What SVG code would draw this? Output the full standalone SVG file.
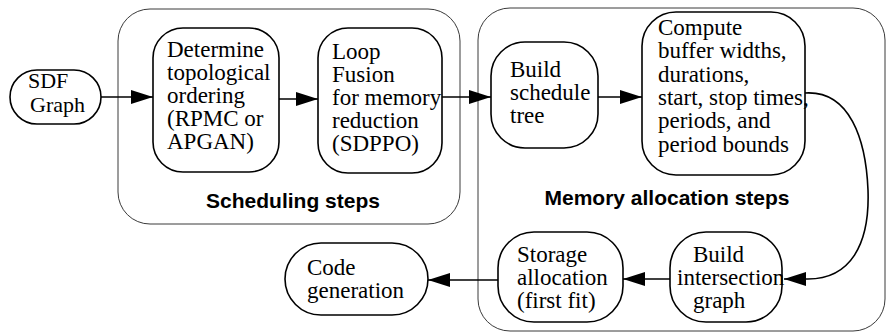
<svg xmlns="http://www.w3.org/2000/svg" width="888" height="333" viewBox="0 0 888 333">
  <style>
    .bg { fill: #ffffff; }
    .group { fill: none; stroke: #3a3a3a; stroke-width: 1; }
    .node { fill: #ffffff; stroke: #000000; stroke-width: 1.6; }
    .label { font-family: "Liberation Serif", "Times New Roman", serif; font-size: 23px; fill: #000000; }
    .small { font-size: 22px; }
    .title { font-family: "Liberation Sans", Arial, sans-serif; font-size: 21px; font-weight: bold; fill: #000000; }
    .edge { fill: none; stroke: #000000; stroke-width: 1.6; }
  </style>
  <defs>
    <marker id="arrow" markerUnits="userSpaceOnUse" markerWidth="24" markerHeight="16" refX="22" refY="7" orient="auto">
      <path d="M0,0 L22,7 L0,14 Z" fill="#000000"/>
    </marker>
  </defs>

  <rect class="bg" x="0" y="0" width="888" height="333"/>

  <!-- grouping frames -->
  <g id="scheduling-steps">
    <rect class="group" x="118" y="9" width="342" height="215" rx="32" ry="32"/>
    <text class="title" x="293" y="208" text-anchor="middle">Scheduling steps</text>
  </g>
  <g id="memory-allocation-steps">
    <rect class="group" x="478" y="8" width="407" height="323" rx="32" ry="32"/>
    <text class="title" x="667" y="205" text-anchor="middle">Memory allocation steps</text>
  </g>

  <!-- connectors -->
  <g id="connectors">
    <line class="edge" x1="101" y1="97" x2="153" y2="97" marker-end="url(#arrow)"/>
    <line class="edge" x1="279" y1="99" x2="318" y2="99" marker-end="url(#arrow)"/>
    <line class="edge" x1="442" y1="97" x2="491" y2="97" marker-end="url(#arrow)"/>
    <line class="edge" x1="598" y1="97" x2="642" y2="97" marker-end="url(#arrow)"/>
    <path class="edge" d="M805,93 C850,90 866,140 868,190 C870,245 850,279 808,279 L784,279" marker-end="url(#arrow)"/>
    <line class="edge" x1="670" y1="279" x2="623" y2="279" marker-end="url(#arrow)"/>
    <line class="edge" x1="498" y1="280" x2="428" y2="280" marker-end="url(#arrow)"/>
  </g>

  <!-- process nodes -->
  <g id="sdf-graph">
    <rect class="node" x="10" y="70" width="91" height="54" rx="27" ry="27"/>
    <text class="label small" x="28" y="88">SDF</text>
    <text class="label small" x="30" y="112">Graph</text>
  </g>
  <g id="topological-ordering">
    <rect class="node" x="153" y="28" width="126" height="144" rx="30" ry="30"/>
    <text class="label" x="167" y="57">Determine</text>
    <text class="label" x="167" y="80">topological</text>
    <text class="label" x="167" y="103">ordering</text>
    <text class="label" x="167" y="126">(RPMC or</text>
    <text class="label" x="167" y="149">APGAN)</text>
  </g>
  <g id="loop-fusion">
    <rect class="node" x="318" y="28" width="124" height="145" rx="30" ry="30"/>
    <text class="label" x="332" y="59">Loop</text>
    <text class="label" x="332" y="82">Fusion</text>
    <text class="label" x="332" y="105">for memory</text>
    <text class="label" x="332" y="128">reduction</text>
    <text class="label" x="332" y="151">(SDPPO)</text>
  </g>
  <g id="schedule-tree">
    <rect class="node" x="491" y="42" width="107" height="106" rx="34" ry="34"/>
    <text class="label" x="510" y="77">Build</text>
    <text class="label" x="510" y="100">schedule</text>
    <text class="label" x="510" y="123">tree</text>
  </g>
  <g id="buffer-parameters">
    <rect class="node" x="642" y="12" width="163" height="163" rx="34" ry="34"/>
    <text class="label" x="658" y="35">Compute</text>
    <text class="label" x="658" y="58">buffer widths,</text>
    <text class="label" x="658" y="82">durations,</text>
    <text class="label" x="658" y="105">start, stop times,</text>
    <text class="label" x="658" y="128">periods, and</text>
    <text class="label" x="658" y="152">period bounds</text>
  </g>
  <g id="intersection-graph">
    <rect class="node" x="670" y="232" width="112" height="90" rx="36" ry="36"/>
    <text class="label" x="693" y="262">Build</text>
    <text class="label" x="677" y="285">intersection</text>
    <text class="label" x="693" y="308">graph</text>
  </g>
  <g id="storage-allocation">
    <rect class="node" x="498" y="232" width="125" height="90" rx="36" ry="36"/>
    <text class="label" x="517" y="262">Storage</text>
    <text class="label" x="517" y="285">allocation</text>
    <text class="label" x="517" y="308">(first fit)</text>
  </g>
  <g id="code-generation">
    <rect class="node" x="285" y="243" width="143" height="72" rx="36" ry="36"/>
    <text class="label" x="307" y="275">Code</text>
    <text class="label" x="307" y="298">generation</text>
  </g>
</svg>
